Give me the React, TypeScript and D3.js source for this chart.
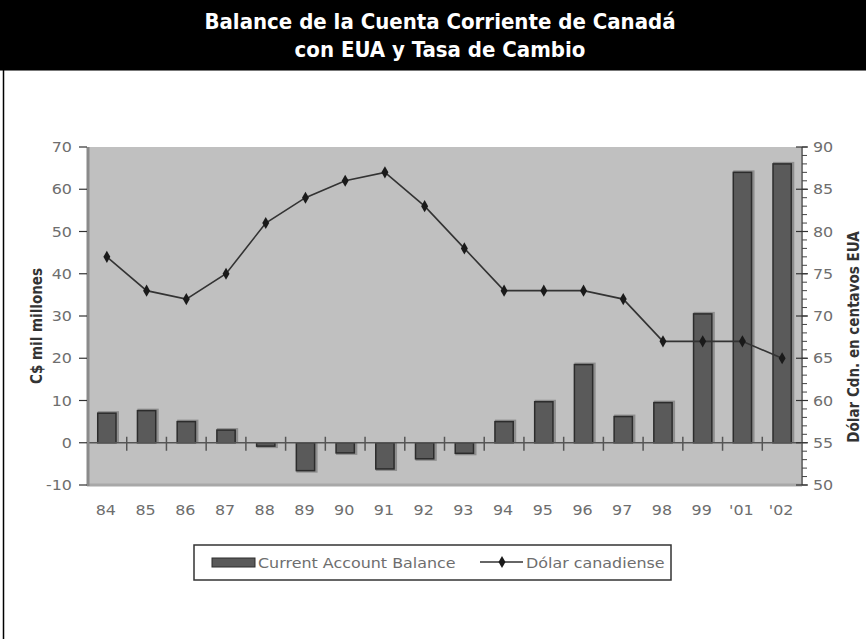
import React from "react";
import * as d3 from "d3";

const years = ["84", "85", "86", "87", "88", "89", "90", "91", "92", "93", "94", "95", "96", "97", "98", "99", "'01", "'02"];
const balance = [7, 7.6, 5, 3, -0.8, -6.6, -2.4, -6.2, -3.8, -2.5, 5, 9.7, 18.5, 6.2, 9.5, 30.5, 64, 66];
const dollar = [77, 73, 72, 75, 81, 84, 86, 87, 83, 78, 73, 73, 73, 72, 67, 67, 67, 65];
const leftTicks = [-10, 0, 10, 20, 30, 40, 50, 60, 70];
const rightTicks = [50, 55, 60, 65, 70, 75, 80, 85, 90];
const titleLines = ["Balance de la Cuenta Corriente de Canadá", "con EUA y Tasa de Cambio"];
const seriesNames = ["Current Account Balance", "Dólar canadiense"];
const yTitleLeft = "C$ mil millones";
const yTitleRight = "Dólar Cdn. en centavos EUA";

const SX = 1.18;
const tickColor = "#6e6e6e";
const tickStyle = { font: "13.5px 'DejaVu Sans', Verdana, sans-serif" };

function WideText(props: { x: number; y: number; anchor?: string; children: React.ReactNode }) {
  return (
    <text transform={`translate(${props.x},${props.y}) scale(${SX},1)`} x={0} y={0}
      textAnchor={props.anchor || "start"} fill={tickColor} style={tickStyle}>{props.children}</text>
  );
}

export default function App() {
  const W = 866, H = 639;
  const x0 = 87, x1 = 802, yTop = 147, yBot = 485;
  const xs = d3.scaleBand<string>().domain(years).range([x0, x1]);
  const yL = d3.scaleLinear().domain([-10, 70]).range([yBot, yTop]);
  const yR = d3.scaleLinear().domain([50, 90]).range([yBot, yTop]);
  const bw = xs.bandwidth();
  const barW = bw * 0.46;
  const cx = (i: number) => (xs(years[i]) as number) + bw / 2;
  const line = d3.line<number>().x((_, i) => cx(i)).y(d => yR(d));
  const diamond = d3.symbol().type(d3.symbolDiamond).size(42)();
  const minor = d3.range(50, 91, 1);
  return (
    <svg width={W} height={H} style={{ position: "absolute", left: 0, top: 0, background: "#fff" }}>
      <rect x={0} y={0} width={W} height={70} fill="#000" />
      {titleLines.map((t, i) => (
        <text key={i} x={440} y={29 + i * 28} textAnchor="middle" fill="#fff"
          style={{ font: "bold 22px 'DejaVu Sans Condensed', 'DejaVu Sans', sans-serif" }}>{t}</text>
      ))}
      <line x1={0} x2={W} y1={70.5} y2={70.5} stroke="#777" strokeWidth={1} />
      <line x1={3.5} x2={3.5} y1={70} y2={H} stroke="#000" strokeWidth={1.5} />

      <rect x={x0} y={yTop} width={x1 - x0} height={yBot - yTop} fill="#c0c0c0" />
      <line x1={x0} x2={x1} y1={yBot} y2={yBot} stroke="#a8a8a8" strokeWidth={3} />

      {/* zero-line ticks */}
      {years.map((c, i) => i === 0 ? null : (
        <line key={"zt" + i} x1={xs(c) as number} x2={xs(c) as number} y1={yL(0) - 6} y2={yL(0) + 8} stroke="#555" strokeWidth={1.5} />
      ))}

      {/* bars */}
      {balance.map((v, i) => {
        const top = Math.min(yL(v), yL(0));
        const h = Math.abs(yL(v) - yL(0));
        return (
          <g key={"b" + i}>
            <rect x={cx(i) - barW / 2} y={v >= 0 ? top - 2 : top} width={barW + 3} height={h + 2} fill="#8e8e8e" />
            <rect x={cx(i) - barW / 2} y={top} width={barW} height={Math.max(h, 1)} fill="#5a5a5a" stroke="#2c2c2c" strokeWidth={1.5} />
          </g>
        );
      })}
      <line x1={x0} x2={x1} y1={yL(0)} y2={yL(0)} stroke="#555" strokeWidth={1.5} />

      {/* line series */}
      <path d={line(dollar) || ""} fill="none" stroke="#333" strokeWidth={1.6} />
      {dollar.map((v, i) => (
        <path key={"m" + i} d={diamond || ""} transform={`translate(${cx(i)},${yR(v)})`} fill="#1a1a1a" />
      ))}

      {/* left axis */}
      <line x1={x0 + 1} x2={x0 + 1} y1={yTop} y2={yBot + 1} stroke="#8a8a8a" strokeWidth={3} />
      {leftTicks.map(t => (
        <g key={"lt" + t}>
          <line x1={x0 - 8} x2={x0} y1={yL(t)} y2={yL(t)} stroke="#333" strokeWidth={1.2} />
          <WideText x={72} y={yL(t) + 5} anchor="end">{t}</WideText>
        </g>
      ))}
      <text transform={`translate(42,${326}) rotate(-90)`} textAnchor="middle" fill="#333"
        style={{ font: "bold 15px 'DejaVu Sans Condensed', sans-serif" }}>{yTitleLeft}</text>

      {/* right axis */}
      <line x1={x1} x2={x1} y1={yTop} y2={yBot} stroke="#777" strokeWidth={2} />
      {minor.map(t => (
        <line key={"mn" + t} x1={x1} x2={x1 + 5} y1={yR(t)} y2={yR(t)} stroke="#444" strokeWidth={1} />
      ))}
      {rightTicks.map(t => (
        <g key={"rt" + t}>
          <line x1={x1 - 6} x2={x1 + 6} y1={yR(t)} y2={yR(t)} stroke="#333" strokeWidth={1.2} />
          <WideText x={813} y={yR(t) + 5}>{t}</WideText>
        </g>
      ))}
      <text transform={`translate(859,${337}) rotate(-90)`} textAnchor="middle" fill="#333"
        style={{ font: "bold 15px 'DejaVu Sans Condensed', sans-serif" }}>{yTitleRight}</text>

      {/* x labels */}
      {years.map((c, i) => (
        <WideText key={"xl" + c} x={cx(i) - 1} y={515} anchor="middle">{c}</WideText>
      ))}

      {/* legend */}
      <rect x={194} y={545} width={477} height={35} fill="#fff" stroke="#333" strokeWidth={1.5} />
      <rect x={212} y={558} width={43} height={9} fill="#5a5a5a" stroke="#2c2c2c" strokeWidth={1} />
      <WideText x={258} y={568}>{seriesNames[0]}</WideText>
      <line x1={480} x2={523} y1={562} y2={562} stroke="#333" strokeWidth={1.5} />
      <path d={diamond || ""} transform="translate(502,562)" fill="#1a1a1a" />
      <WideText x={526} y={568}>{seriesNames[1]}</WideText>
    </svg>
  );
}
